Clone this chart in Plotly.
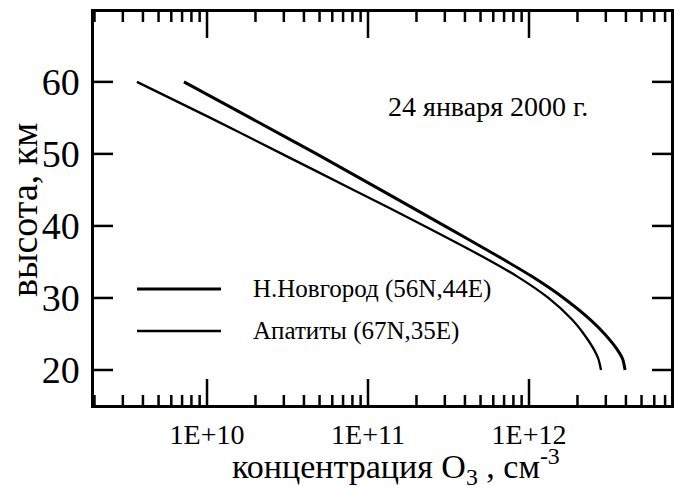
import plotly.graph_objects as go

# altitude, km and ozone concentration, cm^-3
nn_alt = [60, 55, 50, 45, 40, 36, 33, 30, 27, 25, 23, 21.5, 20]
nn_o3 = [7.19e9, 1.86e10, 4.79e10, 1.20e11, 2.99e11, 6.18e11, 1.04e12, 1.64e12,
         2.40e12, 2.95e12, 3.49e12, 3.82e12, 3.95e12]
ap_alt = [60, 55, 50, 45, 40, 36, 33, 30, 27, 25, 23, 21.5, 20]
ap_o3 = [3.67e9, 1.05e10, 2.92e10, 8.13e10, 2.24e11, 4.90e11, 8.43e11, 1.32e12,
         1.85e12, 2.19e12, 2.51e12, 2.70e12, 2.80e12]

names = ["Н.Новгород (56N,44E)", "Апатиты (67N,35E)"]
xtickvals = [1e10, 1e11, 1e12]
xticktext = ["1E+10", "1E+11", "1E+12"]
xminor = [m * 10.0 ** e for e in (9, 10, 11, 12) for m in range(2, 10)]
ytickvals = [20, 30, 40, 50, 60]
date_text = "24 января 2000 г."

FONT = "Liberation Serif"
XR = [9.298, 12.882]
YR = [15.14, 69.7]

# plot-area geometry in pixels
L, R, T, B = 94, 671, 12, 405
W, H = R - L, B - T
def px(x): return (x - L) / W
def py(y): return (B - y) / H

fig = go.Figure()
fig.add_trace(go.Scatter(x=nn_o3, y=nn_alt, mode="lines", name=names[0],
                         line=dict(color="black", width=3, shape="spline", smoothing=0.7),
                         showlegend=False))
fig.add_trace(go.Scatter(x=ap_o3, y=ap_alt, mode="lines", name=names[1],
                         line=dict(color="black", width=2.3, shape="spline", smoothing=0.7),
                         showlegend=False))

# inside tick marks on all four sides, drawn through the axes' scales
ky = (YR[1] - YR[0]) / H            # km per pixel
kx = (XR[1] - XR[0]) / W            # decades per pixel
xlo, xhi = 10 ** XR[0], 10 ** XR[1]
tx, ty = [], []
for vals, ln in [(xtickvals, 26), (xminor, 10)]:
    for v in vals:
        if xlo < v < xhi:
            tx += [v, v, None, v, v, None]
            ty += [YR[0], YR[0] + ln * ky, None, YR[1], YR[1] - ln * ky, None]
for v in ytickvals:
    tx += [xlo, 10 ** (XR[0] + 19 * kx), None, xhi, 10 ** (XR[1] - 19 * kx), None]
    ty += [v, v, None, v, v, None]
fig.add_trace(go.Scatter(x=tx, y=ty, mode="lines", line=dict(color="black", width=2.5),
                         showlegend=False, hoverinfo="skip", connectgaps=False))

# manual legend
for name, ypix, w in [(names[0], 289, 3), (names[1], 331, 2.3)]:
    fig.add_shape(type="line", xref="paper", yref="paper",
                  x0=px(137), x1=px(221), y0=py(ypix), y1=py(ypix),
                  line=dict(color="black", width=w))
    fig.add_annotation(xref="paper", yref="paper", x=px(251), y=py(ypix),
                       xanchor="left", yanchor="middle", showarrow=False,
                       text=name, font=dict(family=FONT, size=25, color="black"))

fig.add_annotation(xref="paper", yref="paper", x=px(386), y=py(106),
                   xanchor="left", yanchor="middle", showarrow=False,
                   text=date_text, font=dict(family=FONT, size=28, color="black"))

fig.add_annotation(xref="paper", yref="paper", x=px(396), y=py(466),
                   xanchor="center", yanchor="middle", showarrow=False,
                   text="концентрация O<sub>3</sub> , см<sup>-3</sup>",
                   font=dict(family=FONT, size=34, color="black"))
fig.add_annotation(xref="paper", yref="paper", x=-(94 - 24) / W, y=py(210),
                   xanchor="center", yanchor="middle", showarrow=False, textangle=-90,
                   text="высота, км",
                   font=dict(family=FONT, size=38, color="black"))

fig.update_layout(
    width=674, height=494,
    margin=dict(l=L, r=674 - R, t=T, b=494 - B, autoexpand=False),
    plot_bgcolor="white", paper_bgcolor="white",
    xaxis=dict(type="log", range=XR, tickmode="array",
               tickvals=xtickvals, ticktext=xticktext, ticks="",
               showline=True, linecolor="black", linewidth=2.5, mirror=True,
               showgrid=False, zeroline=False, ticklabelstandoff=3,
               tickfont=dict(family=FONT, size=28, color="black")),
    yaxis=dict(range=YR, tickmode="array", tickvals=ytickvals, ticks="",
               showline=True, linecolor="black", linewidth=2.5, mirror=True,
               showgrid=False, zeroline=False, ticklabelstandoff=4,
               tickfont=dict(family=FONT, size=38, color="black")),
)

fig.write_html("out.html", config={"displayModeBar": False},
               post_script="document.body.style.margin='0';document.body.style.overflow='hidden';")
